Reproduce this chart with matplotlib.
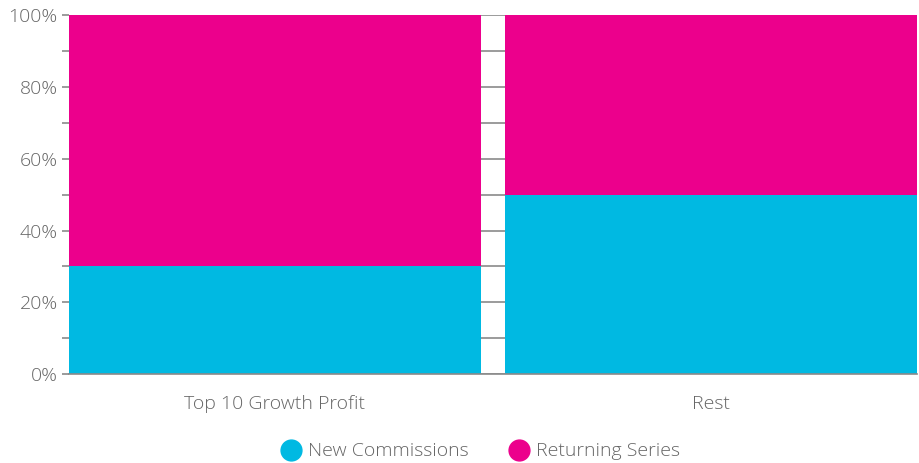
import matplotlib.pyplot as plt
import numpy as np
from matplotlib.ticker import MultipleLocator, PercentFormatter
from matplotlib.lines import Line2D

plt.rcParams['font.family'] = ['Open Sans', 'DejaVu Sans']
plt.rcParams['font.weight'] = 'light'

categories = ['Top 10 Growth Profit', 'Rest']
new_commissions = [30, 50]
returning_series = [70, 50]

cyan = '#00B9E2'
magenta = '#EC008C'
text_grey = '#666666'

fig, ax = plt.subplots(figsize=(9.19, 4.63), dpi=100)
fig.subplots_adjust(left=0.075, right=0.998, top=0.967, bottom=0.192)

x = np.arange(len(categories))
width = 0.945
ax.bar(x, new_commissions, width=width, color=cyan, zorder=2)
ax.bar(x, returning_series, width=width, bottom=new_commissions,
       color=magenta, zorder=2)

ax.set_xlim(-width / 2, len(categories) - 1 + width / 2)
ax.set_ylim(0, 100)
ax.yaxis.set_major_locator(MultipleLocator(20))
ax.yaxis.set_minor_locator(MultipleLocator(10))
ax.yaxis.set_major_formatter(PercentFormatter(decimals=0))
ax.grid(axis='y', which='both', color='#8a8a8a', linewidth=1.2, zorder=0)
ax.set_axisbelow(True)

ax.set_xticks(x)
ax.set_xticklabels(categories)
ax.tick_params(axis='x', length=0, pad=15, labelsize=14, labelcolor=text_grey)
ax.tick_params(axis='y', which='both', length=5, width=1.2, color='#8a8a8a',
               labelsize=14, labelcolor=text_grey, pad=3)

for side in ['top', 'right', 'left']:
    ax.spines[side].set_visible(False)
ax.spines['bottom'].set_color('#8a8a8a')
ax.spines['bottom'].set_linewidth(1.2)

handles = [
    Line2D([], [], marker='o', linestyle='', markersize=15,
           markerfacecolor=cyan, markeredgecolor=cyan, label='New Commissions'),
    Line2D([], [], marker='o', linestyle='', markersize=15,
           markerfacecolor=magenta, markeredgecolor=magenta, label='Returning Series'),
]
fig.legend(handles=handles, loc='lower center', ncol=2, frameon=False,
           bbox_to_anchor=(0.522, -0.032), fontsize=14, labelcolor=text_grey,
           handletextpad=0.25, columnspacing=2.0, handlelength=1.2)

plt.savefig('out.png')
